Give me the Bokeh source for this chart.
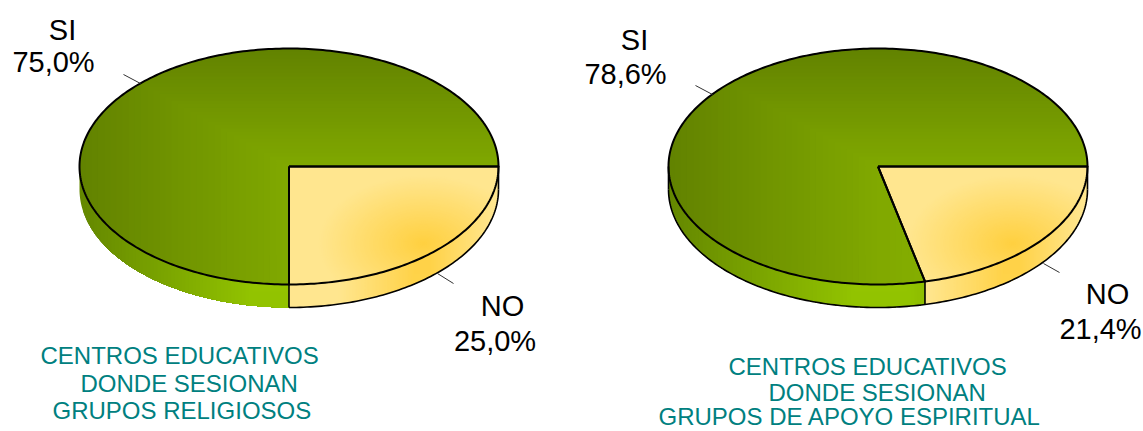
import math
from bokeh.core.properties import value
from bokeh.embed import file_html
from bokeh.models import Range1d
from bokeh.plotting import figure
from bokeh.resources import INLINE

# Percentages per chart
no_share = [25.0, 21.4]
si_share = [75.0, 78.6]
si_labels = ["SI", "SI"]
no_labels = ["NO", "NO"]
si_pct = ["75,0%", "78,6%"]
no_pct = ["25,0%", "21,4%"]
captions = [
    ["CENTROS EDUCATIVOS", "DONDE SESIONAN", "GRUPOS RELIGIOSOS"],
    ["CENTROS EDUCATIVOS", "DONDE SESIONAN", "GRUPOS DE APOYO ESPIRITUAL"],
]

# Pie geometry in page pixels
CENTERS = [288.5, 877.5]
CY, RX, RY, DEPTH = 166.0, 209.5, 118.0, 23.0
TEAL = "#008080"
LABEL_FONT = value("Liberation Sans")
LEVELS = 56

# Colour ramps, as (distance from the highlight 0..1, rgb)
GREEN_TOP = [(0.0, (141, 185, 0)), (0.4, (128, 168, 0)), (1.0, (98, 130, 0))]
GREEN_SIDE = [(0.0, (153, 204, 0)), (1.0, (100, 135, 0))]
YELLOW = [(0.0, (255, 208, 64)), (1.0, (255, 230, 143))]
PALE = "#ffe68f"


def ramp(stops, t):
    for (t0, c0), (t1, c1) in zip(stops, stops[1:]):
        if t <= t1:
            k = (t - t0) / (t1 - t0)
            return "#%02x%02x%02x" % tuple(round(a + (b - a) * k) for a, b in zip(c0, c1))
    return "#%02x%02x%02x" % stops[-1][1]


def clip_convex(poly, window):
    """Sutherland-Hodgman clip of a polygon against a clockwise-on-screen convex window."""
    for i, b in enumerate(window):
        a = window[i - 1]
        ex, ey = b[0] - a[0], b[1] - a[1]

        def side(p):
            return ex * (p[1] - a[1]) - ey * (p[0] - a[0])

        out = []
        for j, cur in enumerate(poly):
            prev = poly[j - 1]
            sc, sp = side(cur), side(prev)
            if (sc >= 0) != (sp >= 0):
                u = sp / (sp - sc)
                out.append((prev[0] + (cur[0] - prev[0]) * u, prev[1] + (cur[1] - prev[1]) * u))
            if sc >= 0:
                out.append(cur)
        poly = out
        if not poly:
            return []
    return poly


def arc(cx, a0, a1, dy=0.0, step=1.0):
    n = max(2, int(abs(a1 - a0) / step) + 1)
    pts = []
    for i in range(n + 1):
        a = math.radians(a0 + (a1 - a0) * i / n)
        pts.append((cx + RX * math.cos(a), CY + dy + RY * math.sin(a)))
    return pts


def paint(fig, poly, windows, stops):
    """Paints nested clipped copies of a polygon, from the far edge inward."""
    xs, ys, colors = [], [], []
    for i in range(LEVELS, 0, -1):
        t = i / LEVELS
        part = clip_convex(poly, windows(t))
        if len(part) > 2:
            xs.append([p[0] for p in part])
            ys.append([p[1] for p in part])
            colors.append(ramp(stops, t - 0.5 / LEVELS))
    fig.patches(xs, ys, fill_color=colors, line_color=None)


def box(focus, left, right, up, down):
    def window(t):
        x0, x1 = focus[0] - left * t, focus[0] + right * t
        y0, y1 = focus[1] - up * t, focus[1] + down * t
        return [(x0, y0), (x1, y0), (x1, y1), (x0, y1)]
    return window


def oval(focus, rx, ry):
    def window(t):
        return [(focus[0] + rx * t * math.cos(math.radians(a)),
                 focus[1] + ry * t * math.sin(math.radians(a))) for a in range(0, 360, 10)]
    return window


def outline(fig, pts, width=2.0):
    fig.line([p[0] for p in pts], [p[1] for p in pts], line_color="black",
             line_width=width, line_join="round")


p = figure(width=1143, height=431, output_backend="svg", toolbar_location=None,
           x_range=Range1d(0, 1143), y_range=Range1d(431, 0),
           min_border=0, outline_line_color=None, x_axis_location=None,
           y_axis_location=None, background_fill_color="white",
           border_fill_color="white")
p.grid.visible = False

for k, cx in enumerate(CENTERS):
    split = 360.0 * no_share[k] / (no_share[k] + si_share[k])
    left_edge, right_edge = cx - RX, cx + RX
    top_edge = CY - RY
    fx, fy = cx + 134.5, CY + 77.0
    side_peak = cx - 12.0 if k == 0 else cx + 3.0

    si_rim = arc(cx, split, 180.0) + arc(cx, 180.0, split, DEPTH)
    no_rim = arc(cx, 0.0, split) + arc(cx, split, 0.0, DEPTH)
    si_top = [(cx, CY)] + arc(cx, split, 360.0)
    no_top = [(cx, CY)] + arc(cx, 0.0, split)

    # Rims
    paint(p, si_rim, box((side_peak, CY), side_peak - left_edge, right_edge - side_peak, 1000, 1000),
          GREEN_SIDE)
    p.patch([q[0] for q in no_rim], [q[1] for q in no_rim], fill_color=PALE, line_color=None)
    paint(p, no_rim, box((fx, CY), 85, 70, 1000, 1000), YELLOW)

    # Top faces
    paint(p, si_top, box((fx, fy), fx - left_edge, 1000, fy - top_edge, 1000), GREEN_TOP)
    p.patch([q[0] for q in no_top], [q[1] for q in no_top], fill_color=PALE, line_color=None)
    paint(p, no_top, oval((fx, fy), 105, 68), YELLOW)

    # Strokes
    outline(p, si_top + [si_top[0]])
    outline(p, no_top + [no_top[0]])
    outline(p, arc(cx, 0.0, split, DEPTH), 1.6)
    if k == 1:
        outline(p, arc(cx, split, 180.0, DEPTH), 1.6)
        outline(p, [arc(cx, 180.0, 180.0)[0], arc(cx, 180.0, 180.0, DEPTH)[0]], 1.6)
    outline(p, [arc(cx, 0.0, 0.0)[0], arc(cx, 0.0, 0.0, DEPTH)[0]], 1.6)
    edge = arc(cx, split, split)[0]
    outline(p, [edge, (edge[0], edge[1] + DEPTH)], 1.6)

# Leader lines
p.segment([123, 437, 695, 1043], [74, 273, 85, 263], [140, 453, 712, 1059], [83, 283, 94, 272],
          line_color="#333333", line_width=1)

# Value labels, two lines each
name_x, name_y = [62, 502, 634, 1107], [29, 305, 39, 293]
pct_x, pct_y = [53, 494.5, 625, 1100], [61, 340, 73, 328]
names = [si_labels[0], no_labels[0], si_labels[1], no_labels[1]]
pcts = [si_pct[0], no_pct[0], si_pct[1], no_pct[1]]
for xs, ys, texts in ((name_x, name_y, names), (pct_x, pct_y, pcts)):
    p.text(xs, ys, text=texts, text_font=LABEL_FONT, text_font_size="29px", text_align="center",
           text_baseline="middle", text_color="black")

# Captions below each pie
caption_x = [[40, 80, 52], [728, 768, 658]]
caption_y = [[355, 383, 410], [366, 392, 416]]
for cap, xs, ys in zip(captions, caption_x, caption_y):
    p.text(xs, ys, text=cap, text_font=LABEL_FONT, text_font_size="24px", text_align="left",
           text_baseline="middle", text_color=TEAL)

open("out.html", "w").write(file_html(p, INLINE))
